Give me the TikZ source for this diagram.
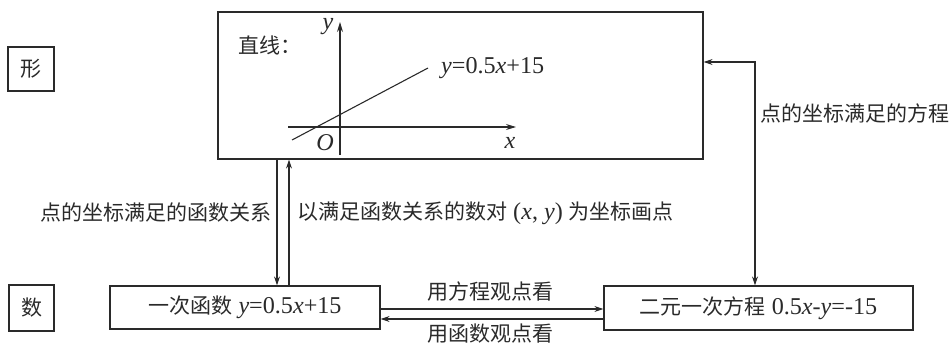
\documentclass[tikz,border=0pt]{standalone}
\usepackage{fontspec}
\setmainfont{Liberation Serif}[Scale=1.15]
\newfontfamily\cjk{Noto Sans CJK SC}
\usetikzlibrary{arrows.meta,calc}
\definecolor{ink}{HTML}{2A2A2A}
\tikzset{
  box/.style={draw=ink,line width=1.2pt,inner sep=0pt,font=\fontsize{21}{24}\selectfont,text=ink},
  lbl/.style={inner sep=0pt,font=\fontsize{21}{24}\selectfont,text=ink},
  arr/.style={draw=ink,line width=1.1pt,-{Stealth[length=9pt,width=6pt]}},
  darr/.style={draw=ink,line width=1.1pt,{Stealth[length=9pt,width=6pt]}-{Stealth[length=9pt,width=6pt]}},
  axis/.style={draw=ink,line width=1.1pt,-{Stealth[length=10pt,width=6pt]}},
  plain/.style={draw=ink,line width=1.1pt}
}
\begin{document}
\begin{tikzpicture}[x=1pt,y=-1pt]
\useasboundingbox (0,0) rectangle (952,343);
% boxes
\node[box,minimum width=485pt,minimum height=147pt] (T) at (460.5,85.5) {};
\node[box,minimum width=270pt,minimum height=43pt] (L) at (245,307.5) {{\cjk 一次函数} \textit{y}=0.5\textit{x}+15};
\node[box,minimum width=309pt,minimum height=44pt] (R) at (758.5,308) {{\cjk 二元一次方程} 0.5\textit{x}-\textit{y}=-15};
\node[box,minimum width=46pt,minimum height=44pt] (X) at (31,69) {\cjk 形};
\node[box,minimum width=45pt,minimum height=46pt] (S) at (31.5,308) {\cjk 数};
% inside the top box
\node[lbl,anchor=west] (zx) at (238,45) {\cjk 直线：};
\coordinate (ya) at (340,155);
\coordinate (yb) at (340,22);
\coordinate (xa) at (288,127);
\coordinate (xb) at (516,127);
\draw[axis] (ya) -- (yb);
\draw[axis] (xa) -- (xb);
\coordinate (la) at (292,140);
\coordinate (lb) at (428,68);
\draw[plain] (la) -- (lb);
\node[lbl,anchor=west] (eq) at (441,68) {\textit{y}=0.5\textit{x}+15};
\node[lbl] (ylab) at (328,27) {\textit{y}};
\node[lbl] (olab) at (325,143) {\textit{O}};
\node[lbl] (xlab) at (510,143) {\textit{x}};
% connector guides
\coordinate (c1) at (277,0);
\coordinate (c2) at (289,0);
\coordinate (h1) at (0,309);
\coordinate (h2) at (0,319);
\coordinate (v) at (755,62);
\draw[arr] (T.south -| c1) -- (L.north -| c1);
\draw[arr] (L.north -| c2) -- (T.south -| c2);
\draw[arr] (L.east |- h1) -- (R.west |- h1);
\draw[arr] (R.west |- h2) -- (L.east |- h2);
\draw[darr] (T.east |- v) -- (v) -- (R.north -| v);
% labels
\node[lbl,anchor=east] (t1) at (272,213) {\cjk 点的坐标满足的函数关系};
\node[lbl,anchor=west] (t2) at (297,213) {{\cjk 以满足函数关系的数对} (\textit{x}, \textit{y}) {\cjk 为坐标画点}};
\node[lbl,anchor=west] (t3) at (760,113) {\cjk 点的坐标满足的方程};
\node[lbl] (t4) at (490,292) {\cjk 用方程观点看};
\node[lbl] (t5) at (490,334) {\cjk 用函数观点看};
\end{tikzpicture}
\end{document}
